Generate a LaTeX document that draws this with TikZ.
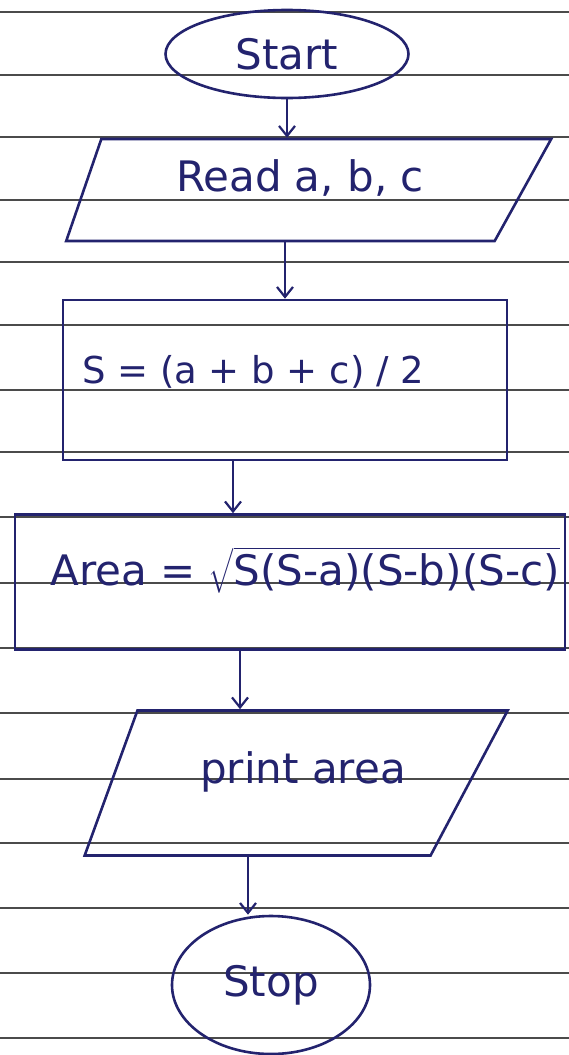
\documentclass[tikz,border=0pt]{standalone}
\usepackage{fontspec}
\setmainfont{DejaVu Sans}
\usepackage{amsmath}
\usetikzlibrary{shapes.geometric,arrows.meta}
\definecolor{ink}{RGB}{35,35,110}
\definecolor{rule}{RGB}{75,75,75}

\begin{document}
\begin{tikzpicture}[x=1pt,y=-1pt,
	every node/.style={text=ink,font=\fontsize{42}{48}\selectfont},
	term/.style={draw=ink,line width=2.6pt,ellipse,inner sep=0pt},
	io/.style={draw=ink,line width=2.6pt,trapezium,trapezium stretches body=true,inner sep=0pt,text depth=0pt},
	proc/.style={draw=ink,line width=2.6pt,rectangle,inner sep=0pt},
	flow/.style={draw=ink,line width=2.2pt,-{Straight Barb[length=10pt,width=16pt]}}]
				\useasboundingbox (0,0) rectangle (569,1055);
				% ruled paper
				\foreach \y in {12,75,137,200,262,325,390,452,517,583,648,713,779,843,908,973,1038}
					\draw[rule,line width=1.3pt] (0,\y) -- (569,\y);
				% shapes
				\node[term,minimum width=243pt,minimum height=88pt] (start) at (287,54) {Start};
				\node[io,trapezium left angle=71,trapezium right angle=119,text height=102pt,minimum width=485pt] (read) at (298,190) {};
				\node[proc,minimum width=444pt,minimum height=160pt] (sbox) at (285,380) {};
				\node[proc,minimum width=550pt,minimum height=135pt] (abox) at (290,582) {};
				\node[io,trapezium left angle=70,trapezium right angle=118,text height=145pt,minimum width=423pt] (print) at (284,783) {};
				\node[term,minimum width=198pt,minimum height=138pt] (stop) at (271,985) {Stop};
				% texts
				\node (readtxt) at (300,178) {Read a, b, c};
				\node[font=\fontsize{37}{44}\selectfont] (stxt) at (253,372) {S = (a + b + c) / 2};
				\node (areatxt) at (305,570) {Area = $\sqrt{\mbox{\rule{0pt}{34pt}S(S-a)(S-b)(S-c)}}$};
				\node (printtxt) at (303,772) {print area};
				% arrows
				\draw[flow] (start) -- (start |- read.north);
				\draw[flow] (read.south -| sbox) -- (sbox);
				\draw[flow] ([xshift=-52pt]sbox.south) -- ([xshift=-52pt]sbox.south |- abox.north);
				\draw[flow] ([xshift=-50pt]abox.south) -- ([xshift=-50pt]abox.south |- print.north);
				\coordinate (stoptop) at ([xshift=-23pt]stop.north);
				\draw[flow] (stoptop |- print.south) -- (stoptop);
			\end{tikzpicture}
\end{document}
